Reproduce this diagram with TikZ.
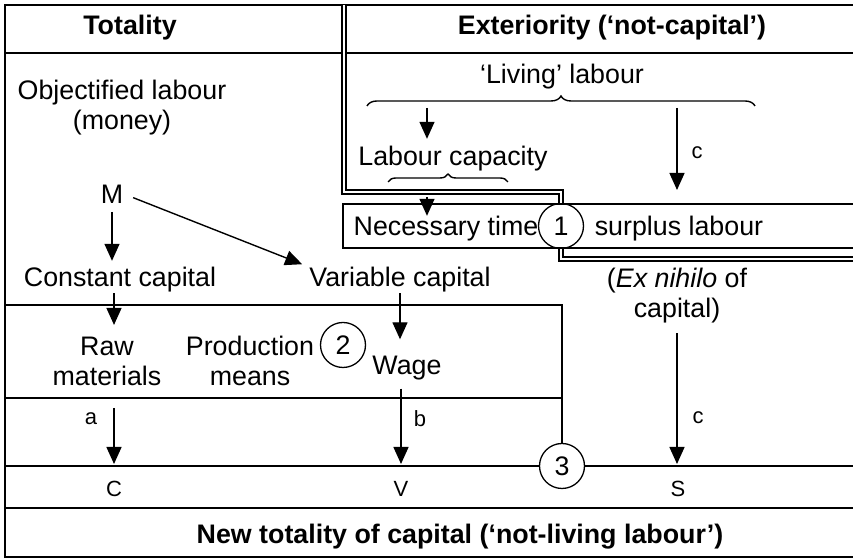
\documentclass[tikz,border=0pt]{standalone}
\usepackage{fontspec}
\setmainfont{Liberation Sans}
\usetikzlibrary{arrows.meta}
\usetikzlibrary{decorations.pathreplacing}

\begin{document}
\fontsize{13.4}{15}\selectfont
\begin{tikzpicture}[x=0.5pt,y=-0.5pt,line width=0.7pt,
		>={Triangle[length=8.5pt,width=7.5pt]},
		every node/.style={inner sep=0pt,align=center},
		lab/.style={font=\fontsize{11}{13}\selectfont},
		num/.style={circle,draw,fill=white,minimum size=22.5pt,line width=0.65pt},
		frame/.style={line width=1.2pt},
		wall/.style={double,double distance=1pt,line width=0.9pt},
		brc/.style={decorate,decoration={brace,amplitude=#1}}]
			\useasboundingbox (0,0) rectangle (853,560);
			
			% frame
			\draw[frame] (853,5) -- (5,5) -- (5,557) -- (853,557);
			\draw[line width=1pt] (5,53) -- (853,53);
			\draw[frame] (5,508) -- (853,508);
			
			\node[num] (c1) at (561,226) {1};
			\node[num] (c2) at (343,345) {2};
			\node[num] (c3) at (562,466) {3};
			
			% exteriority
			\draw[wall] (344,5) -- (344,192) -- (561,192) -- (c1);
			\draw[wall] (c1) -- (561,259) -- (853,259);
			\draw (853,204) -- (343,204) -- (343,248) -- (853,248);
			
			% totality
			\coordinate (lnT) at (5,305);
			\coordinate (lnA) at (5,398);
			\coordinate (lnC) at (5,466);
			\draw (lnT) -| (c3);
			\draw (lnA) -- (lnA -| c3);
			\draw (lnC) -- (c3) -- (853,466);
			
			\node[font=\bfseries] (tot) at (130,28) {Totality};
			\node[font=\bfseries] (ext) at (612,28) {Exteriority (`not-capital')};
			\node (obj) at (122,108) {Objectified labour\\(money)};
			\node (M) at (112,194) {M};
			\node (const) at (120,280) {Constant capital};
			\node (var) at (400,280) {Variable capital};
			\node (raw) at (107,361) {Raw\\materials};
			\node (prod) at (250,361) {Production\\means};
			\node (wage) at (407,368) {Wage};
			\node[lab] (C) at (114,489) {C};
			\node[lab] (V) at (401,489) {V};
			\node[lab] (S) at (678,489) {S};
			\node[lab] (a) at (91,419) {a};
			\node[lab] (b) at (420,419) {b};
			\node[lab] (cs) at (698,418) {c};
			\node[lab] (cl) at (697,153) {c};
			\node[font=\bfseries] (newtot) at (460,537) {New totality of capital (`not-living labour')};
			
			\node (living) at (562,77) {`Living' labour};
			\node (labcap) at (453,159) {Labour capacity};
			\node (nec) at (446,229) {Necessary time};
			\node (surplus) at (679,229) {surplus labour};
			\node (exnih) at (677,296) {(\textit{Ex nihilo} of\\capital)};
			
			\draw[brc=5pt] (367,106) -- (755,106);
			\draw[brc=4pt] (388,182) -- (508,182);
			\coordinate (ll) at (427,108);
			\coordinate (lr) at (677,108);
			\coordinate (cb) at (427,183);
			\coordinate (wl) at (561,192);
			
			\draw[->, shorten >=3.5pt] (ll) -- (ll |- labcap.north);
			\draw[->, shorten >=1pt] (lr) -- (lr |- wl);
			\draw[->, shorten <=7pt] (cb) -- (cb |- nec.north);
			
			\draw[->, shorten <=4pt, shorten >=3pt] (M) -- (M |- const.north);
			\draw[->, shorten <=5pt, shorten >=3.5pt] (M.east) -- (var.north west);
			\draw[->, shorten >=5.5pt] (C |- const.south) -- (C |- raw.north);
			\draw[->, shorten >=8pt] (var.south) -- (var.south |- wage.north);
			\draw[->, shorten <=5pt, shorten >=1pt] (C |- lnA) -- (C |- lnC);
			\draw[->, shorten <=4pt, shorten >=1pt] (V |- wage.south) -- (V |- lnC);
			\draw[->, shorten <=4.5pt, shorten >=1pt] (exnih.south) -- (exnih.south |- lnC);
		\end{tikzpicture}
\end{document}
